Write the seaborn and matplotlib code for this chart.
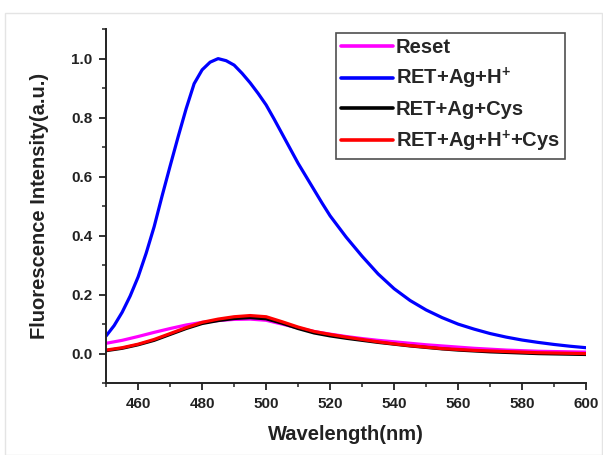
import seaborn as sns
import matplotlib.pyplot as plt
from matplotlib.patches import Rectangle
from matplotlib.ticker import MultipleLocator

# wavelength grid (nm) and intensities
wavelength = [450, 455, 460, 465, 470, 475, 480, 485, 490, 495, 500,
              505, 510, 515, 520, 525, 530, 535, 540, 545, 550,
              555, 560, 565, 570, 575, 580, 585, 590, 595, 600]

reset = [0.035, 0.045, 0.058, 0.072, 0.085, 0.097, 0.106, 0.112, 0.116, 0.117, 0.113,
         0.100, 0.087, 0.075, 0.066, 0.058, 0.051, 0.045, 0.040, 0.035, 0.030,
         0.026, 0.022, 0.018, 0.015, 0.012, 0.010, 0.008, 0.007, 0.006, 0.005]

ret_ag_cys = [0.010, 0.018, 0.030, 0.045, 0.065, 0.085, 0.102, 0.112, 0.119, 0.122, 0.118,
              0.103, 0.085, 0.070, 0.060, 0.052, 0.045, 0.038, 0.032, 0.026, 0.021,
              0.016, 0.012, 0.009, 0.006, 0.004, 0.002, 0.000, -0.001, -0.002, -0.003]

ret_ag_h_cys = [0.012, 0.020, 0.032, 0.048, 0.068, 0.088, 0.106, 0.117, 0.125, 0.129, 0.125,
                0.108, 0.090, 0.075, 0.065, 0.056, 0.048, 0.040, 0.033, 0.027, 0.022,
                0.017, 0.014, 0.011, 0.009, 0.007, 0.005, 0.003, 0.002, 0.001, 0.000]

# the strong band is sampled more finely around its peak
wavelength_h = [450, 452.5, 455, 457.5, 460, 462.5, 465, 467.5, 470, 472.5, 475,
                477.5, 480, 482.5, 485, 487.5, 490, 492.5, 495, 497.5, 500,
                502.5, 505, 507.5, 510, 512.5, 515, 517.5, 520, 525, 530,
                535, 540, 545, 550, 555, 560, 565, 570, 575, 580,
                585, 590, 595, 600]

ret_ag_h = [0.060, 0.095, 0.140, 0.195, 0.260, 0.340, 0.430, 0.535, 0.636, 0.735, 0.830,
            0.915, 0.962, 0.988, 1.000, 0.993, 0.978, 0.950, 0.918, 0.882, 0.843,
            0.795, 0.745, 0.695, 0.645, 0.600, 0.555, 0.510, 0.467, 0.395, 0.330,
            0.270, 0.220, 0.180, 0.148, 0.122, 0.100, 0.083, 0.068, 0.056, 0.046,
            0.038, 0.031, 0.025, 0.020]

labels = ["Reset", r"RET+Ag+H$^{\mathbf{+}}$", "RET+Ag+Cys", r"RET+Ag+H$^{\mathbf{+}}$+Cys"]
colors = ["#ff00ff", "#0000ff", "#000000", "#ff0000"]
xs = [wavelength, wavelength_h, wavelength, wavelength]
series = [reset, ret_ag_h, ret_ag_cys, ret_ag_h_cys]

sns.set_style("ticks")
plt.rcParams["font.family"] = ["Liberation Sans", "DejaVu Sans"]
plt.rcParams["font.weight"] = "bold"
plt.rcParams["mathtext.fontset"] = "custom"
plt.rcParams["mathtext.rm"] = "Liberation Sans:bold"
plt.rcParams["mathtext.bf"] = "Liberation Sans:bold"

fig = plt.figure(figsize=(6.03, 4.55), dpi=100)
ax = fig.add_axes([0.176, 0.158, 0.796, 0.778])

# faint frame around the picture
fig.patches.append(Rectangle((0.008, 0.0), 0.99, 0.972, transform=fig.transFigure,
                             fill=False, edgecolor="#e4e4e4", linewidth=1.0))

for x, vals, lab, col in zip(xs, series, labels, colors):
    sns.lineplot(x=x, y=vals, ax=ax, color=col, linewidth=2.3, label=lab)

ax.set_xlim(450, 600)
ax.set_ylim(-0.1, 1.1)
ax.set_xticks([460, 480, 500, 520, 540, 560, 580, 600])
ax.xaxis.set_minor_locator(MultipleLocator(10))
ax.set_yticks([0.0, 0.2, 0.4, 0.6, 0.8, 1.0])
ax.yaxis.set_minor_locator(MultipleLocator(0.1))
ax.tick_params(which="major", direction="out", length=5, width=1.3, labelsize=11,
               colors="#222222", pad=5)
ax.tick_params(which="minor", direction="out", length=3, width=1.1, colors="#222222")
for t in ax.get_xticklabels() + ax.get_yticklabels():
    t.set_fontweight("bold")

for s in ["top", "right"]:
    ax.spines[s].set_visible(False)
for s in ["left", "bottom"]:
    ax.spines[s].set_linewidth(1.4)
    ax.spines[s].set_color("#222222")

ax.set_xlabel("Wavelength(nm)", fontsize=14.5, fontweight="bold", color="#222222", labelpad=10)
ax.set_ylabel("Fluorescence Intensity(a.u.)", fontsize=14.5, fontweight="bold", color="#222222",
              labelpad=16)

leg = ax.legend(loc="upper right", bbox_to_anchor=(0.956, 0.989), borderaxespad=0,
                fontsize=14.5, handlelength=2.6, handletextpad=0.15, labelspacing=0.45,
                frameon=True, fancybox=False, borderpad=0.25)
leg.get_frame().set_edgecolor("#222222")
leg.get_frame().set_linewidth(1.2)
for line in leg.get_lines():
    line.set_linewidth(2.6)
for t in leg.get_texts():
    t.set_fontweight("bold")

fig.savefig("out.png", dpi=100)
plt.close(fig)
